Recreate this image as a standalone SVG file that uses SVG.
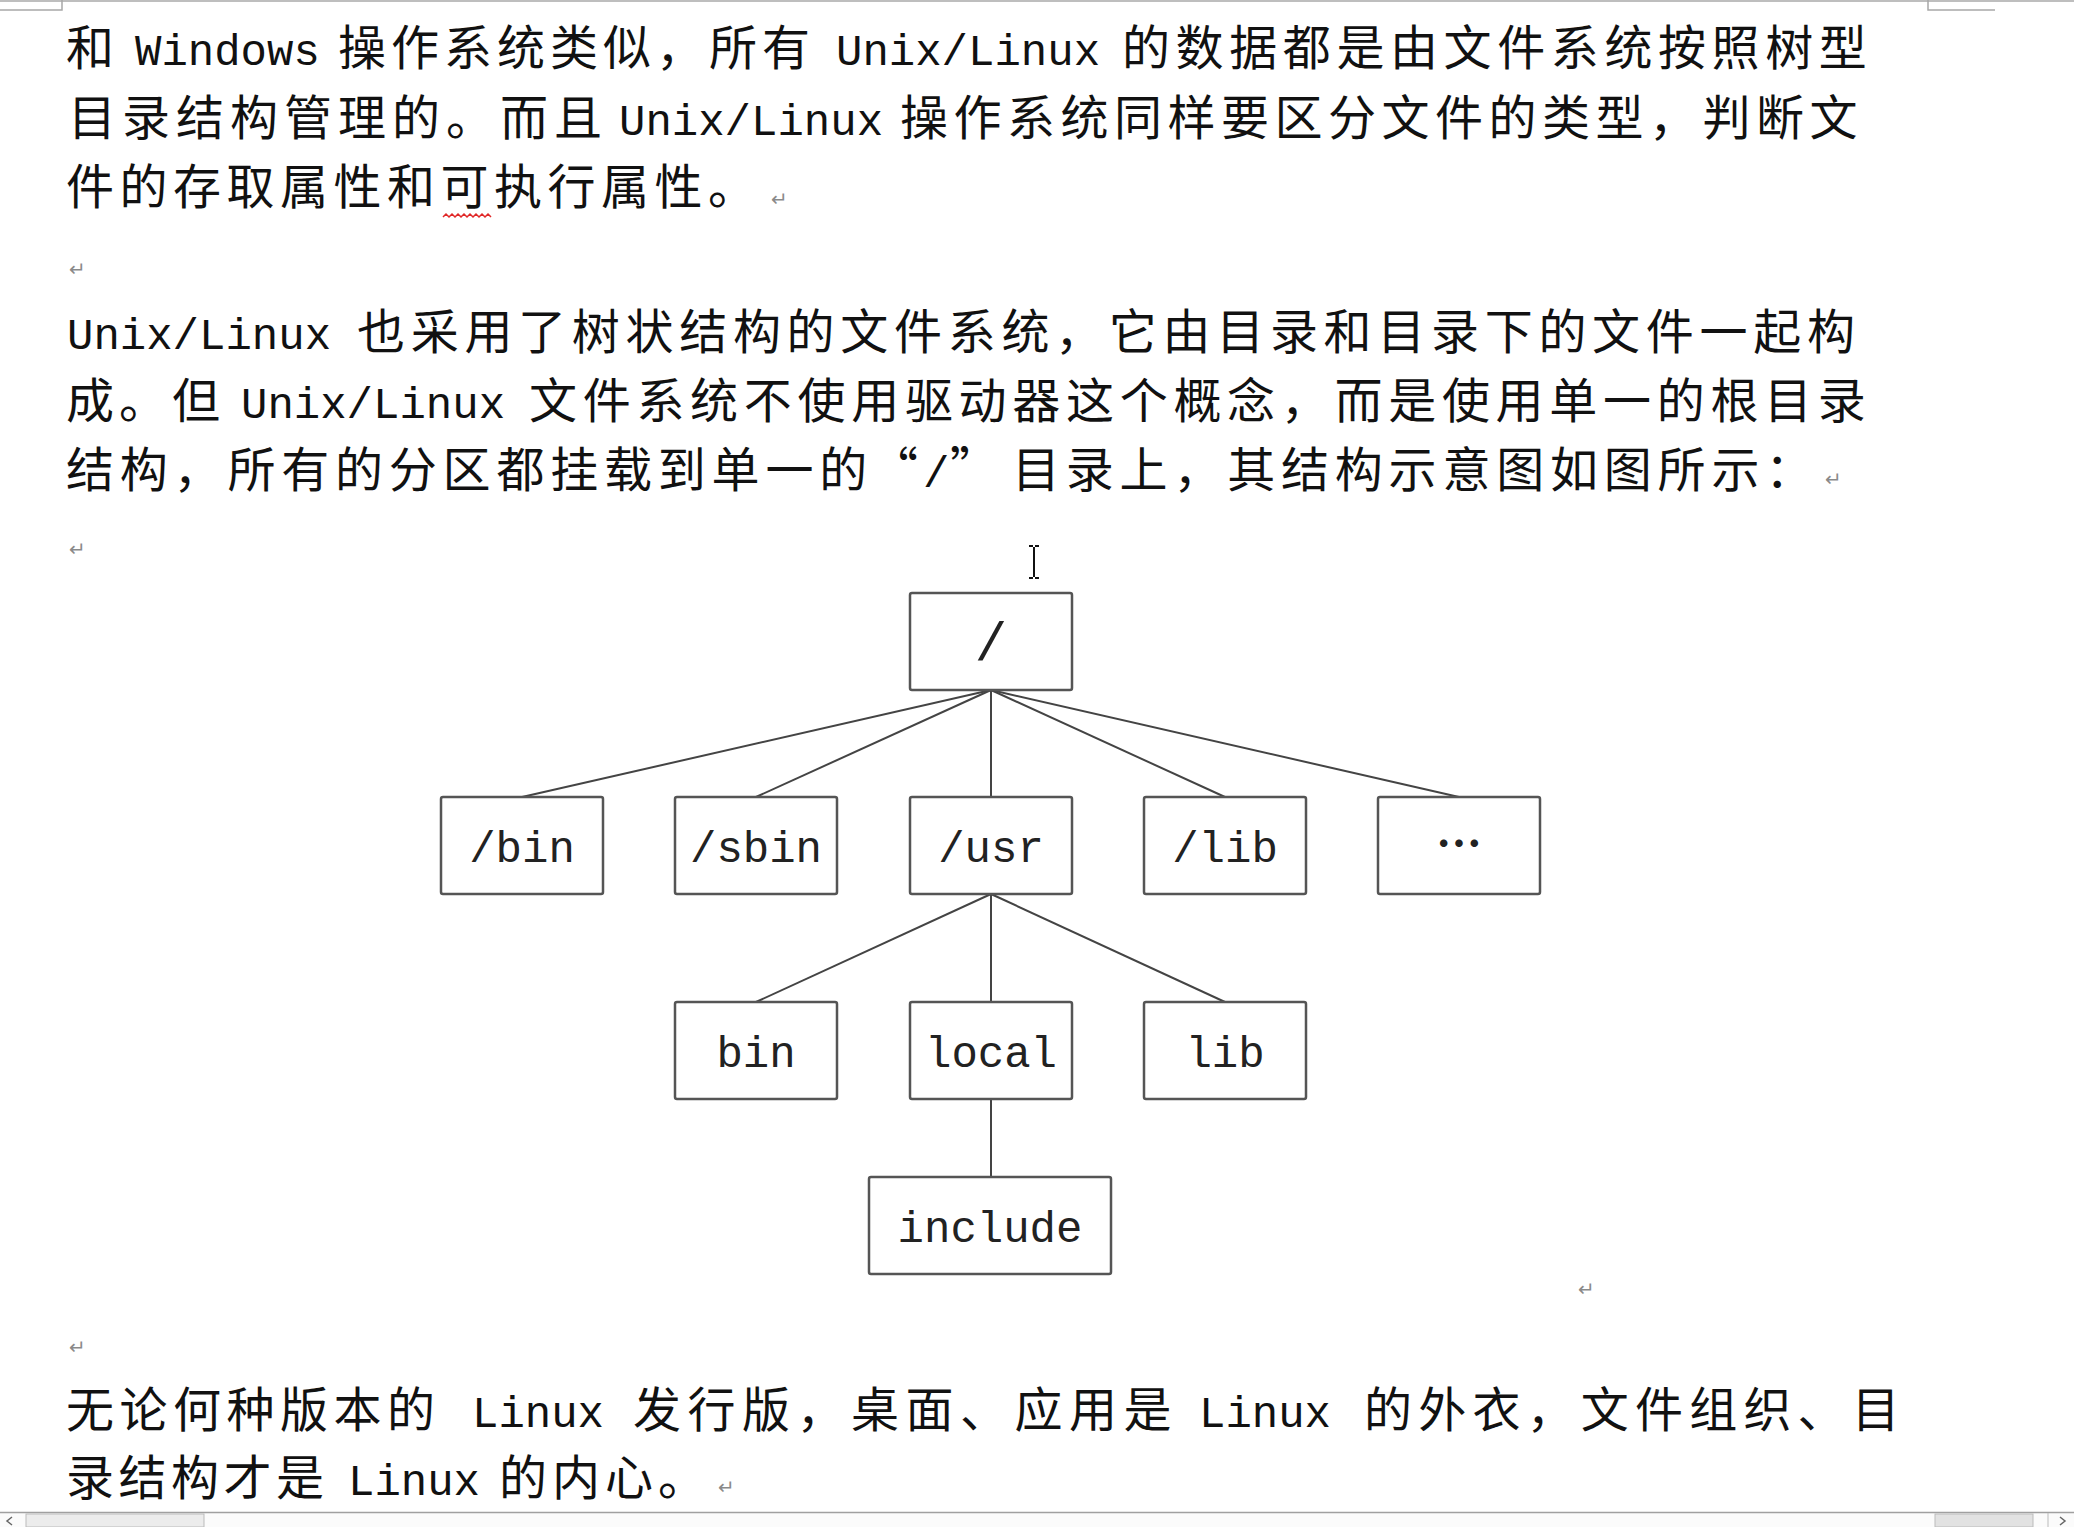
<svg xmlns="http://www.w3.org/2000/svg" width="2074" height="1527" viewBox="0 0 2074 1527">
<style>
.c{font-family:"Noto Sans CJK SC","Noto Sans CJK TC",sans-serif;font-size:48px;fill:#111;}
.l{font-family:"Liberation Mono","DejaVu Sans Mono",monospace;font-size:44px;fill:#111;letter-spacing:0;}
.pm{font-family:"DejaVu Sans",sans-serif;font-size:20px;fill:#8a8a8a;}
.box{fill:#fff;stroke:#555;stroke-width:2.5;}
.lbl{font-family:"Liberation Mono","DejaVu Sans Mono",monospace;font-size:44px;fill:#222;text-anchor:middle;}
.edge{stroke:#444;stroke-width:2;fill:none;}
.deco{stroke:#a8a8a8;stroke-width:1.5;fill:none;}
</style>
<rect width="2074" height="1527" fill="#fff"/>
<g id="page-decor">
<line class="deco" x1="0" y1="1" x2="2074" y2="1" stroke="#d8d8d8"/>
<path class="deco" d="M0 10 H62 V0"/>
<path class="deco" d="M1928 0 V10 H1995"/>
</g>
<g id="paragraph-1">
<text y="65"><tspan class="c" x="66">和</tspan><tspan class="l" x="135">Windows</tspan><tspan class="c" x="338" letter-spacing="5">操作系统类似，所有</tspan><tspan class="l" x="836">Unix/Linux</tspan><tspan class="c" x="1122" letter-spacing="5.6">的数据都是由文件系统按照树型</tspan></text>
<text y="135"><tspan class="c" x="68" letter-spacing="6">目录结构管理的。而且</tspan><tspan class="l" x="619">Unix/Linux</tspan><tspan class="c" x="900" letter-spacing="5.5">操作系统同样要区分文件的类型，判断文</tspan></text>
<text y="204"><tspan class="c" x="66" letter-spacing="5.5">件的存取属性和可执行属性。</tspan></text>
<path d="M443 217 l3 -3 l3 3 l3 -3 l3 3 l3 -3 l3 3 l3 -3 l3 3 l3 -3 l3 3 l3 -3 l3 3 l3 -3 l3 3 l3 -3 l3 3" stroke="#e02828" stroke-width="1.5" fill="none"/>
<text class="pm" x="771" y="206">↵</text>
<text class="pm" x="69" y="276">↵</text>
</g>
<g id="paragraph-2">
<text y="349"><tspan class="l" x="67">Unix/Linux</tspan><tspan class="c" x="357" letter-spacing="5.7">也采用了树状结构的文件系统，它由目录和目录下的文件一起构</tspan></text>
<text y="418"><tspan class="c" x="66" letter-spacing="5">成。但</tspan><tspan class="l" x="241">Unix/Linux</tspan><tspan class="c" x="529" letter-spacing="5.7">文件系统不使用驱动器这个概念，而是使用单一的根目录</tspan></text>
<text y="487"><tspan class="c" x="66" letter-spacing="5.8">结构，所有的分区都挂载到单一的</tspan><tspan class="c" x="870">“</tspan><tspan class="l" x="923">/</tspan><tspan class="c" x="950">”</tspan><tspan class="c" x="1012" letter-spacing="5.8">目录上，其结构示意图如图所示：</tspan></text>
<text class="pm" x="1825" y="486">↵</text>
<text class="pm" x="69" y="556">↵</text>
</g>
<g id="cursor">
<path d="M1029 546 H1033 M1035 546 H1039 M1034 547 V577 M1029 578 H1033 M1035 578 H1039" stroke="#111" stroke-width="2" fill="none"/>
</g>
<g id="connectors">
<line class="edge" x1="991" y1="690" x2="522" y2="797"/>
<line class="edge" x1="991" y1="690" x2="756" y2="797"/>
<line class="edge" x1="991" y1="690" x2="991" y2="797"/>
<line class="edge" x1="991" y1="690" x2="1225" y2="797"/>
<line class="edge" x1="991" y1="690" x2="1459" y2="797"/>
<line class="edge" x1="991" y1="894" x2="756" y2="1002"/>
<line class="edge" x1="991" y1="894" x2="991" y2="1002"/>
<line class="edge" x1="991" y1="894" x2="1225" y2="1002"/>
<line class="edge" x1="991" y1="1099" x2="991" y2="1177"/>
</g>
<g id="node-root"><rect class="box" x="910" y="593" width="162" height="97" rx="2"/><text class="lbl" x="991" y="660" style="font-size:54px">/</text></g>
<g id="node-bin"><rect class="box" x="441" y="797" width="162" height="97" rx="2"/><text class="lbl" x="522" y="862">/bin</text></g>
<g id="node-sbin"><rect class="box" x="675" y="797" width="162" height="97" rx="2"/><text class="lbl" x="756" y="862">/sbin</text></g>
<g id="node-usr"><rect class="box" x="910" y="797" width="162" height="97" rx="2"/><text class="lbl" x="991" y="862">/usr</text></g>
<g id="node-lib"><rect class="box" x="1144" y="797" width="162" height="97" rx="2"/><text class="lbl" x="1225" y="862">/lib</text></g>
<g id="node-more"><rect class="box" x="1378" y="797" width="162" height="97" rx="2"/><text class="lbl" x="1459" y="860" style="font-family:'Noto Sans CJK SC',sans-serif;font-weight:bold;font-size:46px">…</text></g>
<g id="node-usr-bin"><rect class="box" x="675" y="1002" width="162" height="97" rx="2"/><text class="lbl" x="756" y="1067">bin</text></g>
<g id="node-usr-local"><rect class="box" x="910" y="1002" width="162" height="97" rx="2"/><text class="lbl" x="991" y="1067">local</text></g>
<g id="node-usr-lib"><rect class="box" x="1144" y="1002" width="162" height="97" rx="2"/><text class="lbl" x="1225" y="1067">lib</text></g>
<g id="node-include"><rect class="box" x="869" y="1177" width="242" height="97" rx="2"/><text class="lbl" x="990" y="1242">include</text></g>
<text class="pm" x="1578" y="1296">↵</text>
<text class="pm" x="69" y="1354">↵</text>
<g id="paragraph-3">
<text y="1427"><tspan class="c" x="66" letter-spacing="5.5">无论何种版本的</tspan><tspan class="l" x="472">Linux</tspan><tspan class="c" x="633" letter-spacing="6.5">发行版，桌面、应用是</tspan><tspan class="l" x="1199">Linux</tspan><tspan class="c" x="1364" letter-spacing="6.2">的外衣，文件组织、目</tspan></text>
<text y="1495"><tspan class="c" x="66" letter-spacing="4.5">录结构才是</tspan><tspan class="l" x="348">Linux</tspan><tspan class="c" x="499" letter-spacing="5">的内心。</tspan></text>
<text class="pm" x="718" y="1494">↵</text>
</g>
<g id="scrollbar">
<rect x="0" y="1512" width="2074" height="15" fill="#fbfbfb"/>
<line x1="0" y1="1512.5" x2="2074" y2="1512.5" stroke="#a0a0a0" stroke-width="1.5"/>
<rect x="26" y="1514" width="178" height="13" fill="#ececec" stroke="#bbb" stroke-width="1"/>
<rect x="1935" y="1514" width="98" height="13" fill="#e2e2e2" stroke="#bbb" stroke-width="1"/>
<line x1="2048" y1="1513" x2="2048" y2="1527" stroke="#bbb" stroke-width="1"/>
<path d="M12 1517 L7 1521 L12 1525" stroke="#666" stroke-width="1.5" fill="none"/>
<path d="M2060 1517 L2065 1521 L2060 1525" stroke="#666" stroke-width="1.5" fill="none"/>
</g>
</svg>
